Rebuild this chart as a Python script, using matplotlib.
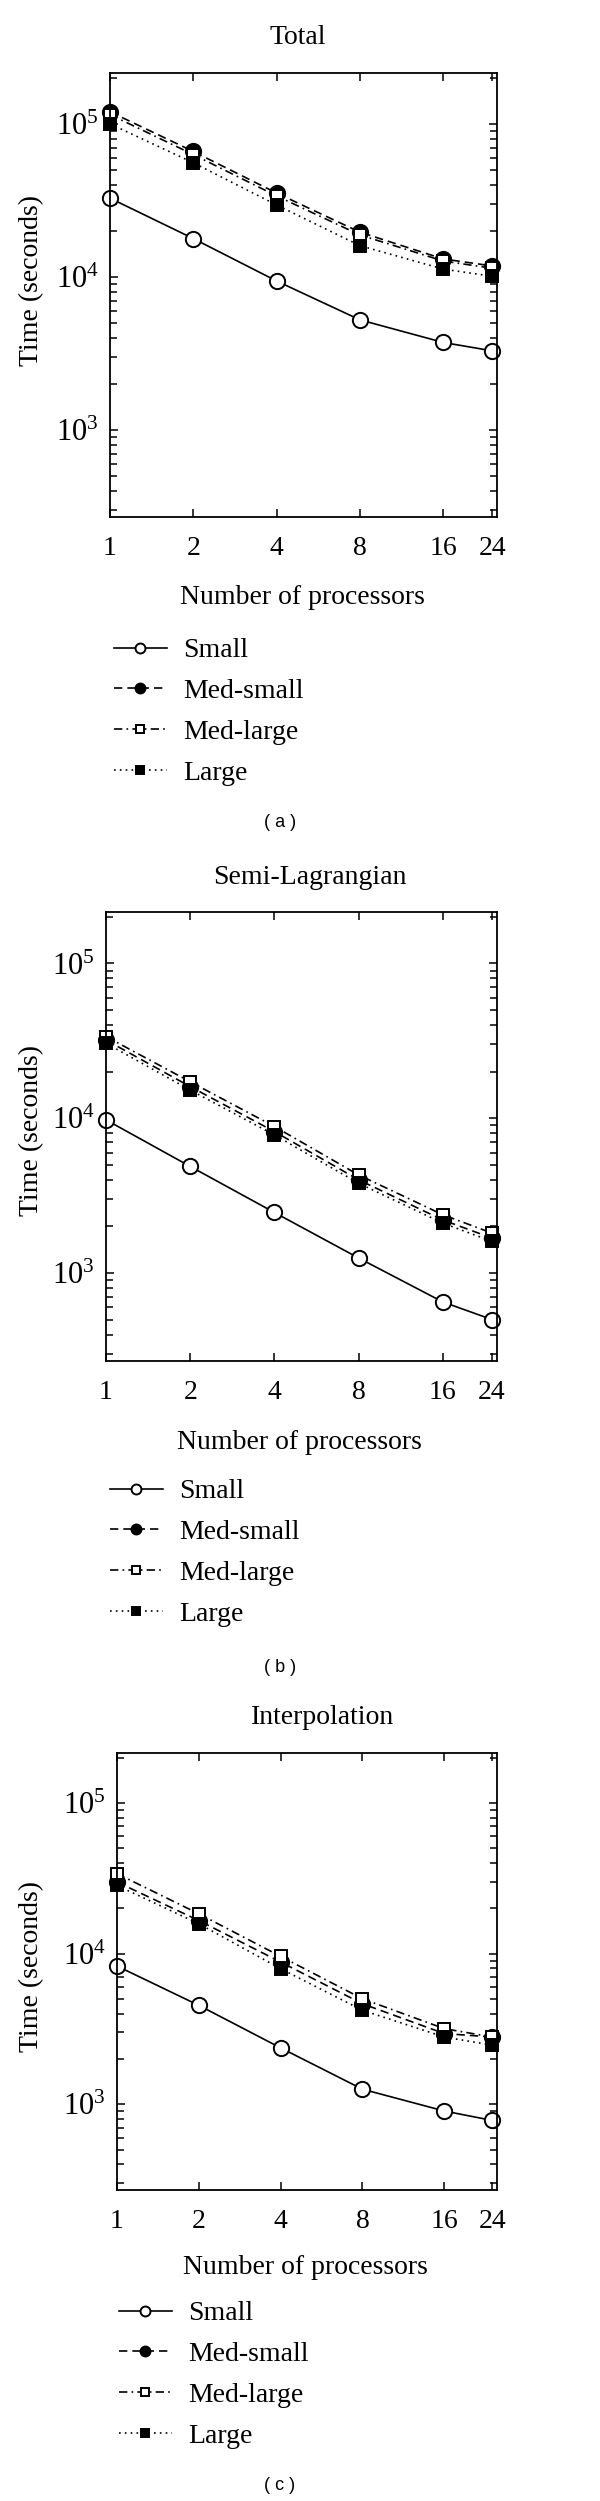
import numpy as np
import matplotlib
matplotlib.use('Agg')
import matplotlib.pyplot as plt
from matplotlib.ticker import LogLocator, NullFormatter, FixedLocator, NullLocator

plt.rcParams['font.family'] = ['Liberation Serif', 'DejaVu Serif']
plt.rcParams['mathtext.fontset'] = 'custom'
plt.rcParams['mathtext.rm'] = 'Liberation Serif'
plt.rcParams['mathtext.it'] = 'Liberation Serif:italic'

procs = [1, 2, 4, 8, 16, 24]
proc_labels = ['1', '2', '4', '8', '16', '24']
series_names = ['Small', 'Med-small', 'Med-large', 'Large']

# times in seconds
total_small = [32700, 17800, 9400, 5240, 3730, 3290]
total_medsmall = [120000, 66000, 35300, 19600, 13100, 11800]
total_medlarge = [115000, 63000, 33800, 18800, 12700, 11400]
total_large = [100000, 55700, 29500, 16000, 11250, 10100]

semi_small = [9760, 4880, 2460, 1250, 650, 500]
semi_medsmall = [32000, 16000, 8200, 4000, 2200, 1680]
semi_medlarge = [33700, 17200, 8840, 4300, 2380, 1810]
semi_large = [30500, 15200, 7800, 3800, 2100, 1600]

interp_small = [8280, 4540, 2370, 1260, 903, 782]
interp_medsmall = [29900, 16600, 8800, 4650, 2950, 2800]
interp_medlarge = [34000, 18400, 9600, 5020, 3180, 2800]
interp_large = [28400, 15800, 7950, 4210, 2800, 2470]

panels = [
    ('Total', '( a )', [total_small, total_medsmall, total_medlarge, total_large]),
    ('Semi-Lagrangian', '( b )', [semi_small, semi_medsmall, semi_medlarge, semi_large]),
    ('Interpolation', '( c )', [interp_small, interp_medsmall, interp_medlarge, interp_large]),
]

styles = [
    dict(ls='-', marker='o', mfc='white'),
    dict(ls=(0, (5, 3)), marker='o', mfc='black'),
    dict(ls=(0, (5, 2.5, 1, 2.5)), marker='s', mfc='white'),
    dict(ls=(0, (1, 2.5)), marker='s', mfc='black'),
]
msizes = [11, 11, 8.5, 8.5]

W, H = 600, 2501
fig = plt.figure(figsize=(W / 100, H / 100), dpi=100)

def fx(px):
    return px / W

def fy(px):
    return 1 - px / H

# pixel layout per panel: axes box, title, ylabel, xlabel, legend, caption
layout = [
    dict(box=(110, 73, 497, 517), title=(298, 37), ylab=(32, 281), xlab=(302, 598),
         leg=(114, 638), cap=(280, 823)),
    dict(box=(106, 912, 497, 1361), title=(310, 877), ylab=(32, 1131), xlab=(299, 1442),
         leg=(110, 1479), cap=(280, 1667)),
    dict(box=(117, 1753, 497, 2190), title=(323, 1718), ylab=(32, 1966), xlab=(305, 2268),
         leg=(119, 2301), cap=(280, 2485)),
]

FS = 20

for (title, cap, data), lay in zip(panels, layout):
    l, t, r, b = lay['box']
    ax = fig.add_axes([fx(l), fy(b), fx(r - l), (b - t) / H])
    handles = []
    for vals, name, st, ms in zip(data, series_names, styles, msizes):
        h, = ax.plot(procs, vals, color='black', lw=1.2, ls=st['ls'], marker=st['marker'],
                     mfc=st['mfc'], mec='black', mew=1.4, ms=ms, label=name, clip_on=False)
        handles.append(h)
    ax.set_xscale('log', base=2)
    ax.set_yscale('log')
    ax.set_xlim(1, 25)
    ax.set_ylim(270, 2.15e5)
    ax.xaxis.set_major_locator(FixedLocator(procs))
    ax.xaxis.set_minor_locator(NullLocator())
    ax.set_xticklabels(proc_labels)
    ax.yaxis.set_major_locator(FixedLocator([1e3, 1e4, 1e5]))
    ax.set_yticklabels([r'$10^3$', r'$10^4$', r'$10^5$'])
    ax.yaxis.set_minor_locator(LogLocator(base=10, subs=np.arange(2, 10)))
    ax.yaxis.set_minor_formatter(NullFormatter())
    ax.tick_params(which='both', direction='in', top=True, right=True, width=1.1,
                   labelsize=FS)
    ax.tick_params(axis='x', which='major', length=6, pad=14)
    ax.tick_params(axis='y', which='major', length=6, pad=8, labelsize=FS + 2)
    ax.tick_params(axis='y', which='minor', length=5)
    for sp in ax.spines.values():
        sp.set_linewidth(1.3)

    fig.text(fx(lay['title'][0]), fy(lay['title'][1]), title, ha='center', va='center',
             fontsize=FS)
    fig.text(fx(lay['ylab'][0]), fy(lay['ylab'][1]), 'Time (seconds)', ha='center',
             va='center', rotation=90, fontsize=FS)
    fig.text(fx(lay['xlab'][0]), fy(lay['xlab'][1]), 'Number of processors', ha='center',
             va='center', fontsize=FS)
    fig.legend(handles=handles, loc='upper left',
               bbox_to_anchor=(fx(lay['leg'][0]), fy(lay['leg'][1])),
               frameon=False, fontsize=FS, handlelength=1.9, handletextpad=0.6,
               labelspacing=0.55, borderpad=0, borderaxespad=0, markerscale=0.65)
    fig.text(fx(lay['cap'][0]), fy(lay['cap'][1]), cap, ha='center', va='center',
             fontsize=13, family=['Liberation Sans', 'DejaVu Sans'])

fig.savefig('out.png', dpi=100)
